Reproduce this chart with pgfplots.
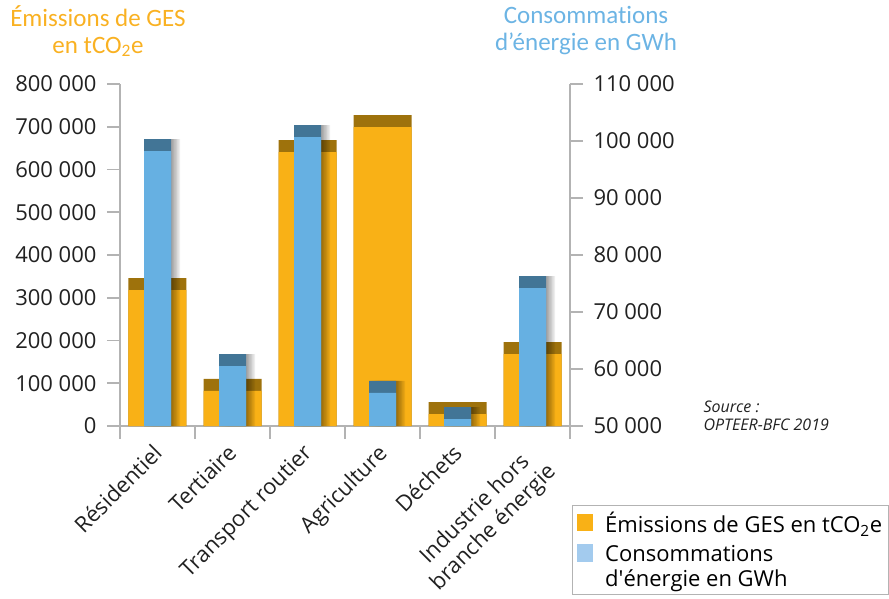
\documentclass[border=0pt]{standalone}
\usepackage{fontspec}
\setmainfont{Open Sans}
\newfontfamily\carlito[Ligatures=NoCommon]{Carlito}
\usepackage{pgfplots}
\pgfplotsset{compat=1.18}
\usepackage{pgfplotstable}

\definecolor{ges}{HTML}{F9B116}
\definecolor{gescap}{HTML}{9E720C}
\definecolor{nrj}{HTML}{66B0E2}
\definecolor{nrjcap}{HTML}{427596}
\definecolor{axgray}{HTML}{B3B3B3}
\definecolor{tges}{HTML}{F9B122}
\definecolor{tnrj}{HTML}{6CB4E4}
\definecolor{legblue}{HTML}{A3CBEE}

\pgfplotstableread{
x ges
0 346000
1 110000
2 669000
3 727500
4 56000
5 196500
}\gesdata
\pgfplotstableread{
x nrj
0 100350
1 62600
2 102800
3 57900
4 53300
5 76300
}\nrjdata

\pgfplotsset{
  common/.style={
    scale only axis, width=450pt, height=342pt,
    xmin=-0.5, xmax=5.5, at={(0pt,0pt)}, anchor=south west,
    axis line style={axgray, line width=1.6pt},
    tick style={axgray, line width=1.6pt},
    major tick length=13pt, tick align=outside,
    tick label style={font=\fontsize{22}{26}\selectfont, text=black!87},
    scaled y ticks=false,
    ybar,
  }
}

\begin{document}
\begin{tikzpicture}
\path[use as bounding box] (-120pt,-172pt) rectangle (769pt,426pt);

\begin{axis}[common,
  axis x line*=bottom, axis y line*=left,
  ymin=0, ymax=800000,
  ytick={0,100000,200000,300000,400000,500000,600000,700000,800000},
  yticklabels={0,100 000,200 000,300 000,400 000,500 000,600 000,700 000,800 000},
  yticklabel style={xshift=-7pt},
  xtick={-0.5,0.5,1.5,2.5,3.5,4.5,5.5},
  xticklabels={},
  extra x ticks={0,1,2,3,4,5},
  extra x tick labels={Résidentiel,Tertiaire,Transport routier,Agriculture,Déchets,{Industrie hors\\branche énergie}},
  extra x tick style={major tick length=0pt, tick label style={xshift=-6pt, yshift=-12pt, rotate=45, anchor=north east, align=center}},
  bar width=58pt,
]
\addplot[fill=gescap, draw=none, bar shift=0pt, forget plot] table[x=x,y=ges]{\gesdata};
\addplot[fill=ges, draw=none, bar shift=0pt, forget plot] table[x=x,y expr=\thisrow{ges}-28070]{\gesdata};
\end{axis}

\begin{axis}[common,
  axis x line=none, axis y line*=right,
  ymin=50000, ymax=110000,
  ytick={50000,60000,70000,80000,90000,100000,110000},
  yticklabels={50 000,60 000,70 000,80 000,90 000,100 000,110 000},
  yticklabel style={xshift=7pt},
  bar width=27pt,
  legend style={at={(1.0044,-0.231)}, anchor=north west, draw=axgray, line width=1.2pt,
    font=\fontsize{22}{25}\selectfont, nodes={align=left}, row sep=8pt, inner xsep=4pt, inner ysep=4pt},
  legend cell align=left,
]
\addplot[fill=black, fill opacity=0.07, draw=none, bar shift=1.5pt, forget plot] table[x=x,y=nrj]{\nrjdata};
\addplot[fill=black, fill opacity=0.07, draw=none, bar shift=3pt, forget plot] table[x=x,y=nrj]{\nrjdata};
\addplot[fill=black, fill opacity=0.07, draw=none, bar shift=4.5pt, forget plot] table[x=x,y=nrj]{\nrjdata};
\addplot[fill=black, fill opacity=0.07, draw=none, bar shift=6pt, forget plot] table[x=x,y=nrj]{\nrjdata};
\addplot[fill=black, fill opacity=0.07, draw=none, bar shift=7.5pt, forget plot] table[x=x,y=nrj]{\nrjdata};
\addplot[fill=black, fill opacity=0.07, draw=none, bar shift=9pt, forget plot] table[x=x,y=nrj]{\nrjdata};
\addplot[fill=nrjcap, draw=none, bar shift=0pt, forget plot] table[x=x,y=nrj]{\nrjdata};
\addplot[fill=nrj, draw=none, bar shift=0pt, forget plot] table[x=x,y expr=\thisrow{nrj}-2105]{\nrjdata};
\addlegendimage{legend image code/.code={\path[draw=none,fill=none] (0pt,-8pt) rectangle (26pt,8pt); \fill[ges] (0pt,-8pt) rectangle (15pt,8pt);}}
\addlegendentry{Émissions de GES en tCO\textsubscript{2}e}
\addlegendimage{legend image code/.code={\path[draw=none,fill=none] (0pt,-22pt) rectangle (23pt,22pt); \fill[legblue] (0pt,6pt) rectangle (15pt,22pt);}}
\addlegendentry{Consommations\\d\textquotesingle énergie en GWh}
\end{axis}

\node[align=center, font={\carlito\fontsize{25}{27}\selectfont}, text=tges] at (-22pt,395pt) {Émissions de GES\\en tCO\textsubscript{2}e};
\node[align=center, font={\carlito\fontsize{25}{27}\selectfont}, text=tnrj] at (466pt,395pt) {Consommat\kern0pt ions\\d’énergie en GWh};
\node[anchor=base west, font={\itshape\fontsize{16}{19}\selectfont}, text=black!87] at (580pt,14pt) {Source :};
\node[anchor=base west, font={\itshape\fontsize{16}{19}\selectfont}, text=black!87] at (580pt,-4pt) {OPTEER-BFC 2019};
\end{tikzpicture}
\end{document}
